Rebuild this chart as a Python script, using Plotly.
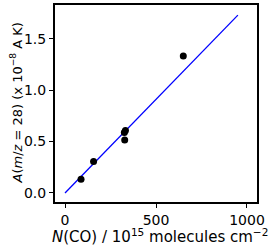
import plotly.graph_objects as go

# Data
n_co = [88, 157, 326, 332, 328, 650]
a_28 = [0.133, 0.305, 0.588, 0.607, 0.516, 1.331]

fit_x = [0, 950]
fit_y = [0, 1.73]

x_ticks = [0, 500, 1000]
y_ticks = [0.0, 0.5, 1.0, 1.5]
y_tick_text = ["0.0", "0.5", "1.0", "1.5"]

x_title = "<i>N</i>(CO) / 10<sup>15</sup> molecules cm<sup>−2</sup>"
y_title = "<i>A</i>(<i>m</i>/<i>z</i> = 28) (x 10<sup>−8</sup> A K)"

fig = go.Figure()
fig.add_trace(go.Scatter(x=fit_x, y=fit_y, mode="lines",
                         line=dict(color="blue", width=1.3), showlegend=False))
fig.add_trace(go.Scatter(x=n_co, y=a_28, mode="markers",
                         marker=dict(color="black", size=7), showlegend=False))

font = dict(family="DejaVu Sans", size=14, color="black")
fig.update_layout(
    width=272, height=249,
    margin=dict(l=55, r=15, t=5, b=47),
    paper_bgcolor="white", plot_bgcolor="white",
    font=font,
)
fig.update_xaxes(
    range=[-55, 1055], tickvals=x_ticks, ticks="outside", ticklen=4, tickwidth=1.3,
    tickcolor="black", showline=True, linecolor="black", linewidth=2, mirror=True,
    showgrid=False, zeroline=False, tickfont=font, automargin=False,
)
fig.update_yaxes(
    range=[-0.088, 1.828], tickvals=y_ticks, ticktext=y_tick_text, ticks="outside",
    ticklen=4, tickwidth=1.3, tickcolor="black", showline=True, linecolor="black",
    linewidth=2, mirror=True, showgrid=False, zeroline=False, tickfont=font,
    automargin=False,
)
fig.add_annotation(text=x_title, xref="paper", yref="paper", x=0.5, y=0,
                   xanchor="center", yanchor="middle", xshift=4, yshift=-34,
                   showarrow=False, font=dict(family="DejaVu Sans", size=15, color="black"))
fig.add_annotation(text=y_title, xref="paper", yref="paper", x=0, y=0.5,
                   xanchor="center", yanchor="middle", xshift=-39, yshift=0,
                   textangle=-90, showarrow=False,
                   font=dict(family="DejaVu Sans", size=13, color="black"))

fig.write_html("out.html", config={"displayModeBar": False},
               post_script="document.body.style.margin='0';document.body.style.overflow='hidden';")
